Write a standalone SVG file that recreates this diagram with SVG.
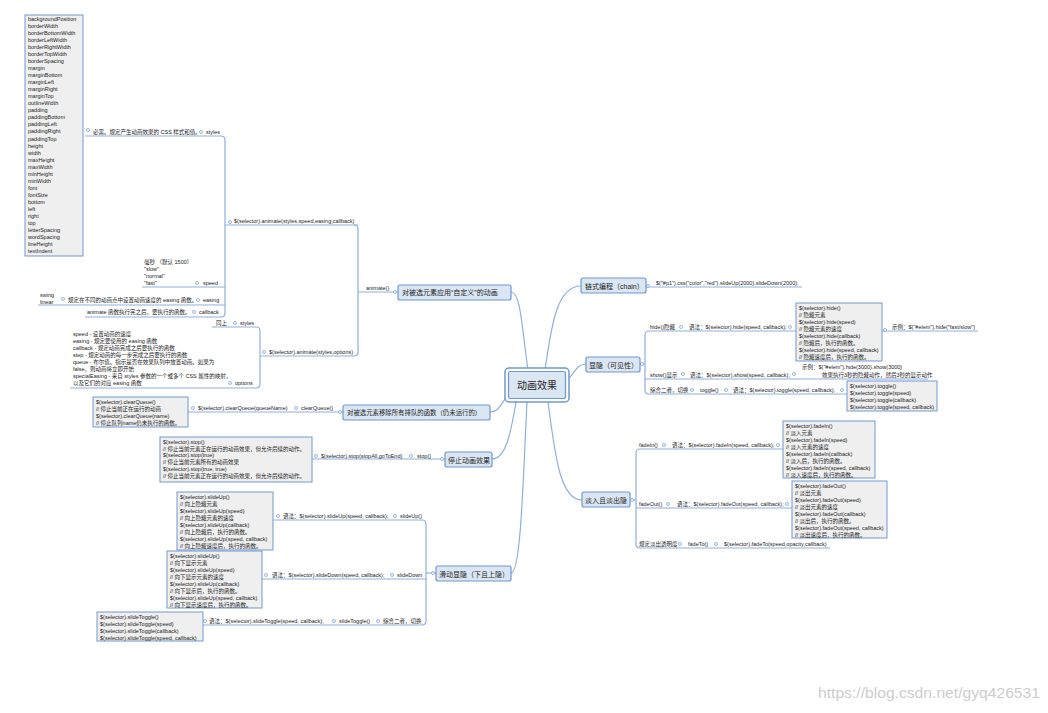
<svg xmlns="http://www.w3.org/2000/svg" width="1048" height="713" viewBox="0 0 1048 713">
<style>
text{font-family:"Liberation Sans","Noto Sans CJK SC",sans-serif;fill:#222}
.s{font-size:5.5px}
.m{font-size:7px}
.c{font-size:10px}
.ln{fill:none;stroke:#8eb0df;stroke-width:1.2}
.dot{fill:#e3ecf8;stroke:#86a9dc;stroke-width:0.7}
.mn{fill:#dbe6f3;stroke:#6f98d0;stroke-width:1.2}
.lf{fill:#efefef;stroke:#7099d1;stroke-width:1}
.wm{font-size:14px;fill:#cdcdcd}
</style>
<rect width="1048" height="713" fill="#fff"/>
<g id="connectors">
<path class="ln" d="M545 370C552 320 558 286 581 286"/>
<path class="ln" d="M567 381C576 370 578 364 586 364"/>
<path class="ln" d="M548 402C555 455 560 500 582 500"/>
<path class="ln" d="M528 370C522 330 521 292 511 292"/>
<path class="ln" d="M507 396C500 406 498 412 490 412"/>
<path class="ln" d="M516 402C511 432 506 459 492 459"/>
<path class="ln" d="M527 402C523 480 521 573 511 573"/>
<path class="ln" d="M358 292H398"/>
<path class="ln" d="M354 225Q358 225 358 229V352Q358 356 354 356"/>
<path class="ln" d="M225 225H358"/>
<path class="ln" d="M221 136Q225 136 225 140V313Q225 317 221 317"/>
<path class="ln" d="M85 136H221"/>
<path class="ln" d="M142 287H225"/>
<path class="ln" d="M38 305H225"/>
<path class="ln" d="M85 317H221"/>
<path class="ln" d="M260 356H354"/>
<path class="ln" d="M256 327Q260 327 260 331V384Q260 388 256 388"/>
<path class="ln" d="M212 327H256"/>
<path class="ln" d="M70 388H256"/>
<path class="ln" d="M188 412H343"/>
<path class="ln" d="M312 459H445"/>
<path class="ln" d="M422 520Q426 520 426 524V621Q426 625 422 625"/>
<path class="ln" d="M426 573H436"/>
<path class="ln" d="M273 520H422"/>
<path class="ln" d="M262 579H426"/>
<path class="ln" d="M202 625H422"/>
<path class="ln" d="M646 287H802"/>
<path class="ln" d="M649 331Q645 331 645 335V390Q645 394 649 394"/>
<path class="ln" d="M640 364H645"/>
<path class="ln" d="M649 331H796"/>
<path class="ln" d="M882 331H978"/>
<path class="ln" d="M645 379H928"/>
<path class="ln" d="M649 394H847"/>
<path class="ln" d="M640 449Q636 449 636 453V544Q636 548 640 548"/>
<path class="ln" d="M630 500H636"/>
<path class="ln" d="M640 449H783"/>
<path class="ln" d="M636 508H792"/>
<path class="ln" d="M640 548H830"/>
<g id="dots">
<circle class="dot" cx="395" cy="292" r="1.6"/>
<circle class="dot" cx="230" cy="222" r="1.6"/>
<circle class="dot" cx="201" cy="132" r="1.6"/>
<circle class="dot" cx="88" cy="130" r="1.6"/>
<circle class="dot" cx="197" cy="283" r="1.6"/>
<circle class="dot" cx="198" cy="300" r="1.6"/>
<circle class="dot" cx="63" cy="299" r="1.6"/>
<circle class="dot" cx="194" cy="312" r="1.6"/>
<circle class="dot" cx="264" cy="352" r="1.6"/>
<circle class="dot" cx="235" cy="323" r="1.6"/>
<circle class="dot" cx="230" cy="383" r="1.6"/>
<circle class="dot" cx="340" cy="412" r="1.6"/>
<circle class="dot" cx="296" cy="408" r="1.6"/>
<circle class="dot" cx="193" cy="408" r="1.6"/>
<circle class="dot" cx="442" cy="459" r="1.6"/>
<circle class="dot" cx="411" cy="456" r="1.6"/>
<circle class="dot" cx="316" cy="456" r="1.6"/>
<circle class="dot" cx="433" cy="573" r="1.6"/>
<circle class="dot" cx="395" cy="516" r="1.6"/>
<circle class="dot" cx="278" cy="516" r="1.6"/>
<circle class="dot" cx="392" cy="575" r="1.6"/>
<circle class="dot" cx="266" cy="575" r="1.6"/>
<circle class="dot" cx="378" cy="621" r="1.6"/>
<circle class="dot" cx="334" cy="621" r="1.6"/>
<circle class="dot" cx="205" cy="621" r="1.6"/>
<circle class="dot" cx="648" cy="286" r="1.6"/>
<circle class="dot" cx="642" cy="364" r="1.6"/>
<circle class="dot" cx="681" cy="327" r="1.6"/>
<circle class="dot" cx="790" cy="327" r="1.6"/>
<circle class="dot" cx="885" cy="330" r="1.6"/>
<circle class="dot" cx="683" cy="374" r="1.6"/>
<circle class="dot" cx="794" cy="374" r="1.6"/>
<circle class="dot" cx="692" cy="390" r="1.6"/>
<circle class="dot" cx="726" cy="390" r="1.6"/>
<circle class="dot" cx="842" cy="390" r="1.6"/>
<circle class="dot" cx="632" cy="500" r="1.6"/>
<circle class="dot" cx="664" cy="445" r="1.6"/>
<circle class="dot" cx="778" cy="445" r="1.6"/>
<circle class="dot" cx="668" cy="504" r="1.6"/>
<circle class="dot" cx="787" cy="504" r="1.6"/>
<circle class="dot" cx="680" cy="544" r="1.6"/>
<circle class="dot" cx="716" cy="544" r="1.6"/>
</g>
</g>
<g id="center">
<rect x="505" y="368" width="64" height="34" rx="4" fill="#fff" stroke="#6f98d0" stroke-width="1.5"/>
<rect x="508.5" y="371.5" width="57" height="27" rx="2" class="mn"/>
<text class="c" x="537" y="389" text-anchor="middle">动画效果</text>
</g>
<g id="n-animate">
<rect class="mn" x="398" y="285" width="113" height="15" rx="2"/>
<text class="m" x="402" y="295">对被选元素应用“自定义”的动画</text>
<text class="s" x="366" y="290">animate()</text>
</g>
<g id="n-animate1">
<text class="s" x="234" y="223">$(selector).animate(styles,speed,easing,callback)</text>
</g>
<g id="n-styles">
<text class="s" x="206" y="134">styles</text>
<text class="s" x="93" y="134">必需。规定产生动画效果的 CSS 样式和值。</text>
<rect class="lf" x="25" y="15" width="58" height="241"/>
<text class="s" x="28"><tspan x="28" y="21">backgroundPosition</tspan><tspan x="28" dy="7.03">borderWidth</tspan><tspan x="28" dy="7.03">borderBottomWidth</tspan><tspan x="28" dy="7.03">borderLeftWidth</tspan><tspan x="28" dy="7.03">borderRightWidth</tspan><tspan x="28" dy="7.03">borderTopWidth</tspan><tspan x="28" dy="7.03">borderSpacing</tspan><tspan x="28" dy="7.03">margin</tspan><tspan x="28" dy="7.03">marginBottom</tspan><tspan x="28" dy="7.03">marginLeft</tspan><tspan x="28" dy="7.03">marginRight</tspan><tspan x="28" dy="7.03">marginTop</tspan><tspan x="28" dy="7.03">outlineWidth</tspan><tspan x="28" dy="7.03">padding</tspan><tspan x="28" dy="7.03">paddingBottom</tspan><tspan x="28" dy="7.03">paddingLeft</tspan><tspan x="28" dy="7.03">paddingRight</tspan><tspan x="28" dy="7.03">paddingTop</tspan><tspan x="28" dy="7.03">height</tspan><tspan x="28" dy="7.03">width</tspan><tspan x="28" dy="7.03">maxHeight</tspan><tspan x="28" dy="7.03">maxWidth</tspan><tspan x="28" dy="7.03">minHeight</tspan><tspan x="28" dy="7.03">minWidth</tspan><tspan x="28" dy="7.03">font</tspan><tspan x="28" dy="7.03">fontSize</tspan><tspan x="28" dy="7.03">bottom</tspan><tspan x="28" dy="7.03">left</tspan><tspan x="28" dy="7.03">right</tspan><tspan x="28" dy="7.03">top</tspan><tspan x="28" dy="7.03">letterSpacing</tspan><tspan x="28" dy="7.03">wordSpacing</tspan><tspan x="28" dy="7.03">lineHeight</tspan><tspan x="28" dy="7.03">textIndent</tspan></text>
</g>
<g id="n-speed">
<text class="s" x="203" y="285">speed</text>
<text class="s"><tspan x="144" y="264">毫秒 （默认 1500）</tspan><tspan x="144" dy="7">"slow"</tspan><tspan x="144" dy="7">"normal"</tspan><tspan x="144" dy="7">"fast"</tspan></text>
</g>
<g id="n-easing">
<text class="s" x="203" y="302">easing</text>
<text class="s" x="68" y="302">规定在不同的动画点中设置动画速度的 easing 函数。</text>
<text class="s"><tspan x="40" y="297">swing</tspan><tspan x="40" dy="7">linear</tspan></text>
</g>
<g id="n-callback">
<text class="s" x="199" y="314">callback</text>
<text class="s" x="87" y="314">animate 函数执行完之后，要执行的函数。</text>
</g>
<g id="n-animate2">
<text class="s" x="269" y="354">$(selector).animate(styles,options)</text>
</g>
<g id="n-styles2">
<text class="s" x="240" y="325">styles</text>
<text class="s" x="216" y="325">同上</text>
</g>
<g id="n-options">
<text class="s" x="235" y="385">options</text>
<text class="s"><tspan x="73" y="336">speed - 设置动画的速度</tspan><tspan x="73" dy="7">easing - 规定要使用的 easing 函数</tspan><tspan x="73" dy="7">callback - 规定动画完成之后要执行的函数</tspan><tspan x="73" dy="7">step - 规定动画的每一步完成之后要执行的函数</tspan><tspan x="73" dy="7">queue - 布尔值。指示是否在效果队列中放置动画。如果为</tspan><tspan x="73" dy="7">false，则动画将立即开始</tspan><tspan x="73" dy="7">specialEasing - 来自 styles 参数的一个或多个 CSS 属性的映射，</tspan><tspan x="73" dy="7">以及它们的对应 easing 函数</tspan></text>
</g>
<g id="n-clearqueue">
<rect class="mn" x="343" y="405" width="147" height="15" rx="2"/>
<text class="m" x="347" y="415" style="font-size:6.4px">对被选元素移除所有排队的函数（仍未运行的）</text>
<text class="s" x="301" y="410">clearQueue()</text>
<text class="s" x="198" y="410">$(selector).clearQueue(queueName)</text>
<rect class="lf" x="93" y="397" width="95" height="30"/>
<text class="s"><tspan x="96" y="404">$(selector).clearQueue()</tspan><tspan x="96" dy="7">// 停止当前正在运行的动画</tspan><tspan x="96" dy="7">$(selector).clearQueue(name)</tspan><tspan x="96" dy="7">//  停止队列name仍未执行的函数。</tspan></text>
</g>
<g id="n-stop">
<rect class="mn" x="445" y="452" width="47" height="15" rx="2"/>
<text class="m" x="448" y="462.5">停止动画效果</text>
<text class="s" x="417" y="457.5">stop()</text>
<text class="s" x="321" y="457.5">$(selector).stop(stopAll,goToEnd)</text>
<rect class="lf" x="160" y="437" width="152" height="45"/>
<text class="s"><tspan x="163" y="444">$(selector).stop()</tspan><tspan x="163" dy="6.7">// 停止当前元素正在运行的动画效果，但允许后续的动作。</tspan><tspan x="163" dy="6.7">$(selector).stop(true)</tspan><tspan x="163" dy="6.7">//  停止当前元素所有的动画效果</tspan><tspan x="163" dy="6.7">$(selector).stop(true, true)</tspan><tspan x="163" dy="6.7">// 停止当前元素正在运行的动画效果，但允许后续的动作。</tspan></text>
</g>
<g id="n-slide">
<rect class="mn" x="436" y="566" width="75" height="15" rx="2"/>
<text class="m" x="439" y="576.5">滑动显隐（下且上隐）</text>
</g>
<g id="n-slideup">
<text class="s" x="400" y="518">slideUp()</text>
<text class="s" x="283" y="518">语法：$(selector).slideUp(speed, callback);</text>
<rect class="lf" x="177" y="492" width="96" height="58"/>
<text class="s"><tspan x="180" y="498.5">$(selector).slideUp()</tspan><tspan x="180" dy="7">//  向上隐藏元素</tspan><tspan x="180" dy="7">$(selector).slideUp(speed)</tspan><tspan x="180" dy="7">//  向上隐藏元素的速度</tspan><tspan x="180" dy="7">$(selector).slideUp(callback)</tspan><tspan x="180" dy="7">// 向上隐藏后，执行的函数。</tspan><tspan x="180" dy="7">$(selector).slideUp(speed, callback)</tspan><tspan x="180" dy="7">// 向上隐藏速度后，执行的函数。</tspan></text>
</g>
<g id="n-slidedown">
<text class="s" x="397" y="577">slideDown</text>
<text class="s" x="272" y="577">语法：$(selector).slideDown(speed, callback);</text>
<rect class="lf" x="167" y="551" width="95" height="57"/>
<text class="s"><tspan x="170" y="557.5">$(selector).slideUp()</tspan><tspan x="170" dy="7">//  向下显示元素</tspan><tspan x="170" dy="7">$(selector).slideUp(speed)</tspan><tspan x="170" dy="7">//  向下显示元素的速度</tspan><tspan x="170" dy="7">$(selector).slideUp(callback)</tspan><tspan x="170" dy="7">// 向下显示后，执行的函数。</tspan><tspan x="170" dy="7">$(selector).slideUp(speed, callback)</tspan><tspan x="170" dy="7">// 向下显示速度后，执行的函数。</tspan></text>
</g>
<g id="n-slidetoggle">
<text class="s" x="383" y="623">综合二者，切换</text>
<text class="s" x="339" y="623">slideToggle()</text>
<text class="s" x="209" y="623">语法：$(selector).slideToggle(speed, callback);</text>
<rect class="lf" x="97" y="612" width="106" height="29"/>
<text class="s"><tspan x="100" y="618.5">$(selector).slideToggle()</tspan><tspan x="100" dy="7">$(selector).slideToggle(speed)</tspan><tspan x="100" dy="7">$(selector).slideToggle(callback)</tspan><tspan x="100" dy="7">$(selector).slideToggle(speed, callback)</tspan></text>
</g>
<g id="n-chain">
<rect class="mn" x="581" y="278" width="65" height="15" rx="2"/>
<text class="m" x="585" y="288.5">链式编程（chain）</text>
<text class="s" x="656" y="284.5">$("#p1").css("color","red").slideUp(2000).slideDown(2000);</text>
</g>
<g id="n-visible">
<rect class="mn" x="586" y="357" width="54" height="15" rx="2"/>
<text class="m" x="589" y="367.5">显隐（可见性）</text>
</g>
<g id="n-hide">
<text class="s" x="650" y="329">hide()隐藏</text>
<text class="s" x="689" y="329">语法：$(selector).hide(speed, callback);</text>
<rect class="lf" x="796" y="303" width="86" height="58"/>
<text class="s"><tspan x="799" y="309.5">$(selector).hide()</tspan><tspan x="799" dy="7">//  隐藏元素</tspan><tspan x="799" dy="7">$(selector).hide(speed)</tspan><tspan x="799" dy="7">//  隐藏元素的速度</tspan><tspan x="799" dy="7">$(selector).hide(callback)</tspan><tspan x="799" dy="7">// 隐藏后，执行的函数。</tspan><tspan x="799" dy="7">$(selector).hide(speed, callback)</tspan><tspan x="799" dy="7">// 隐藏速度后，执行的函数。</tspan></text>
<text class="s" x="892" y="329">示例：$("#elem").hide("fast/slow")</text>
</g>
<g id="n-show">
<text class="s" x="650" y="376.5">show()显示</text>
<text class="s" x="690" y="376.5">语法：$(selector).show(speed, callback);</text>
<text class="s" x="802" y="369">示例：$("#elem").hide(3000).show(3000)</text>
<text class="s" x="822" y="376.5">效果执行3秒的隐藏动作，然后3秒的显示动作</text>
</g>
<g id="n-toggle">
<text class="s" x="650" y="392">综合二者，切换</text>
<text class="s" x="700" y="392">toggle()</text>
<text class="s" x="733" y="392">语法：$(selector).toggle(speed, callback);</text>
<rect class="lf" x="847" y="381" width="90" height="30"/>
<text class="s"><tspan x="850" y="387.5">$(selector).toggle()</tspan><tspan x="850" dy="7">$(selector).toggle(speed)</tspan><tspan x="850" dy="7">$(selector).toggle(callback)</tspan><tspan x="850" dy="7">$(selector).toggle(speed, callback)</tspan></text>
</g>
<g id="n-fade">
<rect class="mn" x="582" y="492" width="48" height="15" rx="2"/>
<text class="m" x="585" y="502.5">淡入且淡出隐</text>
</g>
<g id="n-fadein">
<text class="s" x="639" y="447">fadeIn()</text>
<text class="s" x="672" y="447">语法：$(selector).fadeIn(speed, callback);</text>
<rect class="lf" x="783" y="421" width="92" height="57"/>
<text class="s"><tspan x="786" y="427.5">$(selector).fadeIn()</tspan><tspan x="786" dy="7">//  淡入元素</tspan><tspan x="786" dy="7">$(selector).fadeIn(speed)</tspan><tspan x="786" dy="7">//  淡入元素的速度</tspan><tspan x="786" dy="7">$(selector).fadeIn(callback)</tspan><tspan x="786" dy="7">// 淡入后，执行的函数。</tspan><tspan x="786" dy="7">$(selector).fadeIn(speed, callback)</tspan><tspan x="786" dy="7">// 淡入速度后，执行的函数。</tspan></text>
</g>
<g id="n-fadeout">
<text class="s" x="639" y="506">fadeOut()</text>
<text class="s" x="677" y="506">语法：$(selector).fadeOut(speed, callback);</text>
<rect class="lf" x="792" y="481" width="95" height="57"/>
<text class="s"><tspan x="795" y="487.5">$(selector).fadeOut()</tspan><tspan x="795" dy="7">//  淡出元素</tspan><tspan x="795" dy="7">$(selector).fadeOut(speed)</tspan><tspan x="795" dy="7">//  淡出元素的速度</tspan><tspan x="795" dy="7">$(selector).fadeOut(callback)</tspan><tspan x="795" dy="7">// 淡出后，执行的函数。</tspan><tspan x="795" dy="7">$(selector).fadeOut(speed, callback)</tspan><tspan x="795" dy="7">// 淡出速度后，执行的函数。</tspan></text>
</g>
<g id="n-fadeto">
<text class="s" x="639" y="546">规定淡出透明度</text>
<text class="s" x="688" y="546">fadeTo()</text>
<text class="s" x="724" y="546">$(selector).fadeTo(speed,opacity,callback)</text>
</g>
<text class="wm" x="818" y="698" textLength="222" lengthAdjust="spacingAndGlyphs">https://blog.csdn.net/gyq426531</text>
</svg>
